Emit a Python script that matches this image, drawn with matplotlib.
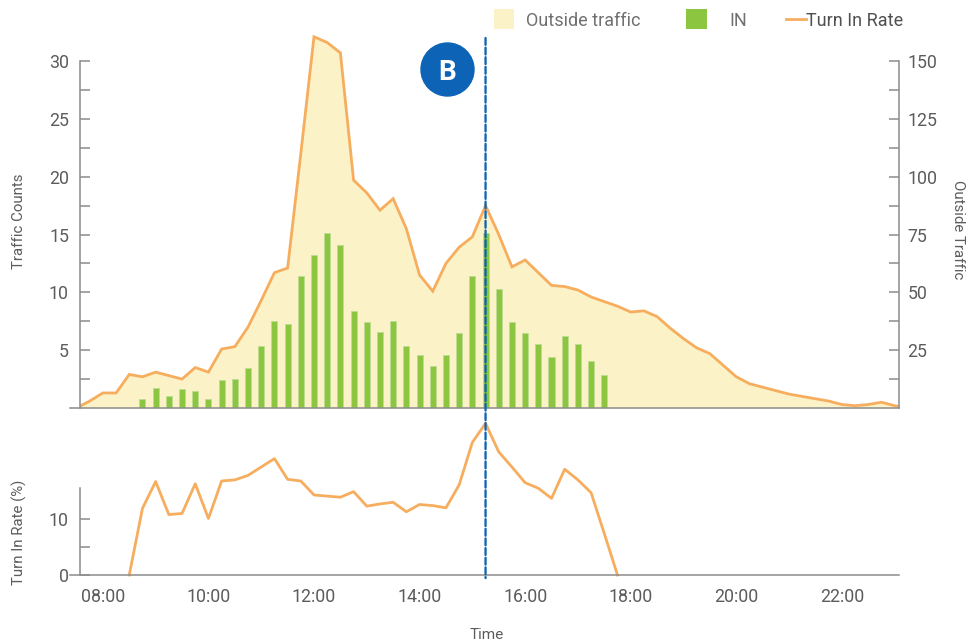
#!/usr/bin/env python3
"""Outside traffic vs. IN counts with turn-in rate, 15-minute buckets."""

import matplotlib

matplotlib.use("Agg")

import matplotlib.pyplot as plt  # noqa: E402
import numpy as np  # noqa: E402
from matplotlib.lines import Line2D  # noqa: E402
from matplotlib.patches import ConnectionPatch, Ellipse, Rectangle  # noqa: E402
from matplotlib.ticker import FixedLocator, FuncFormatter  # noqa: E402

plt.rcParams["font.family"] = ["Roboto", "DejaVu Sans"]

# outside traffic (right axis), every 15 min from 07:30
outside_start = 7.5
outside_traffic = [
    0, 3, 6.5, 6.5, 14.5, 13.5, 15.5, 14, 12.5, 17.5,
    15.5, 25.5, 26.5, 35, 46.5, 58.5, 60.5, 110, 160.5, 158,
    153.5, 98.5, 93, 85.5, 90.5, 77.5, 57.5, 50.5, 62.5, 69.5,
    74, 87.5, 75, 61, 64, 58.5, 53, 52.5, 51, 48,
    46, 44, 41.5, 42, 39.5, 34.5, 30, 26, 23.5, 18.5,
    13.5, 10.5, 9, 7.5, 6, 5, 4, 3, 1.5, 1,
    1.5, 2.5, 1, 0,
]

# IN counts (left axis), every 15 min from 08:45
in_start = 8.75
in_counts = [
    0.8, 1.7, 1.0, 1.6, 1.5, 0.8, 2.45, 2.55, 3.5, 5.4,
    7.5, 7.3, 11.4, 13.2, 15.1, 14.05, 8.35, 7.4, 6.55, 7.5,
    5.4, 4.6, 3.65, 4.6, 6.45, 11.4, 15.1, 10.3, 7.4, 6.45,
    5.5, 4.45, 6.2, 5.5, 4.05, 2.85,
]

# turn in rate (%), every 15 min from 08:30
rate_start = 8.5
turn_in_rate = [
    0, 11.9, 16.7, 10.8, 11.0, 16.3, 10.1, 16.8, 17.0, 17.8,
    19.3, 20.8, 17.1, 16.8, 14.3, 14.1, 13.9, 14.9, 12.3, 12.7,
    13.0, 11.3, 12.6, 12.4, 12.0, 16.1, 23.7, 27.1, 22.0, 19.3,
    16.5, 15.5, 13.7, 18.9, 17.0, 14.7, 7.4, 0,
]

hour_ticks = [8, 10, 12, 14, 16, 18, 20, 22]
marker_time = 15.25
marker_label = "B"

FILL = "#FBF3C7"
LINE = "#F7AD5E"
GREEN = "#8CC540"
BLUE = "#0D63B5"
AXIS = "#8C8C8C"
TEXT = "#5C5C5C"

W, H = 967, 643
STEP = 0.25
PX_PER_HOUR = 52.8


def px_box(left, top, right, bottom):
    return [left / W, 1 - bottom / H, (right - left) / W, (bottom - top) / H]


def times(start, values):
    return start + STEP * np.arange(len(values))


xlim = (7 + 34 / 60, 23 + 5 / 60)
# the x baseline pokes ~10 px out to the left of the y spine
baseline = (xlim[0] - 10 / PX_PER_HOUR, xlim[1])

fig = plt.figure(figsize=(W / 100, H / 100), dpi=100)

# --- top panel -------------------------------------------------------------
ax_in = fig.add_axes(px_box(80, 35, 899, 408))
ax_out = ax_in.twinx()
ax_in.set_zorder(ax_out.get_zorder() + 1)
ax_in.patch.set_visible(False)

t_out = times(outside_start, outside_traffic)
ax_out.fill_between(t_out, outside_traffic, color=FILL, lw=0)
ax_out.plot(t_out, outside_traffic, color=LINE, lw=2.0, solid_joinstyle="miter")
ax_out.set_ylim(0, 161.25)

ax_in.bar(times(in_start, in_counts), in_counts, width=0.115,
          color=GREEN, edgecolor="#BCDD92", linewidth=0.6)
ax_in.set_ylim(0, 32.25)
ax_in.set_xlim(*xlim)

for name in ("top", "right"):
    ax_in.spines[name].set_visible(False)
for name in ("top", "left", "bottom"):
    ax_out.spines[name].set_visible(False)
ax_in.spines["left"].set_bounds(0, 30)
ax_in.spines["bottom"].set_bounds(*baseline)
ax_out.spines["right"].set_bounds(0, 150)
for ax, side in ((ax_in, "left"), (ax_in, "bottom"), (ax_out, "right")):
    ax.spines[side].set_color(AXIS)
    ax.spines[side].set_linewidth(1.1)

ax_in.yaxis.set_major_locator(FixedLocator([5, 10, 15, 20, 25, 30]))
ax_in.yaxis.set_minor_locator(FixedLocator([2.5, 7.5, 12.5, 17.5, 22.5, 27.5]))
ax_out.yaxis.set_major_locator(FixedLocator([25, 50, 75, 100, 125, 150]))
ax_out.yaxis.set_minor_locator(FixedLocator([12.5, 37.5, 62.5, 87.5, 112.5, 137.5]))
ax_in.tick_params(axis="y", which="both", direction="in", length=7, width=1.1,
                  color=AXIS, labelcolor=TEXT, labelsize=12.8, pad=8)
ax_out.tick_params(axis="y", which="both", direction="in", length=7, width=1.1,
                   color=AXIS, labelcolor=TEXT, labelsize=12.8, pad=6)
ax_in.tick_params(axis="x", which="both", length=0, labelbottom=False)
ax_out.tick_params(axis="x", which="both", length=0, labelbottom=False)

ax_in.set_ylabel("Traffic Counts", fontsize=10.8, color=TEXT, va="center")
ax_in.yaxis.set_label_coords(-0.0745, 0.5)
ax_out.set_ylabel("Outside Traffic", fontsize=10.8, color=TEXT, rotation=270, va="center")
ax_out.yaxis.set_label_coords(1.072, 0.477)

# --- bottom panel ----------------------------------------------------------
ax_rate = fig.add_axes(px_box(80, 420, 899, 575))
ax_rate.patch.set_visible(False)
ax_rate.plot(times(rate_start, turn_in_rate), turn_in_rate, color=LINE, lw=2.0,
             clip_on=False)
ax_rate.set_xlim(*xlim)
ax_rate.set_ylim(0, 27.7)
for name in ("top", "right"):
    ax_rate.spines[name].set_visible(False)
ax_rate.spines["left"].set_bounds(0, 15.5)
ax_rate.spines["bottom"].set_bounds(*baseline)
for side in ("left", "bottom"):
    ax_rate.spines[side].set_color(AXIS)
    ax_rate.spines[side].set_linewidth(1.1)
ax_rate.yaxis.set_major_locator(FixedLocator([0, 10]))
ax_rate.yaxis.set_minor_locator(FixedLocator([5]))
ax_rate.tick_params(axis="y", which="both", direction="in", length=7, width=1.1,
                    color=AXIS, labelcolor=TEXT, labelsize=12.8, pad=8)
ax_rate.xaxis.set_major_locator(FixedLocator(hour_ticks))
ax_rate.xaxis.set_major_formatter(FuncFormatter(lambda h, _: f"{int(h):02d}:00"))
ax_rate.tick_params(axis="x", length=0, labelcolor=TEXT, labelsize=12.8, pad=9)

ax_rate.set_ylabel("Turn In Rate (%)", fontsize=10.8, color=TEXT, va="center")
ax_rate.yaxis.set_label_coords(-0.0745, 0.277)
ax_rate.set_xlabel("Time", fontsize=11, color=TEXT, va="center")
ax_rate.xaxis.set_label_coords(0.497, -0.387)

# --- marker line through both panels ---------------------------------------
marker = ConnectionPatch(
    xyA=(marker_time, 0.992), coordsA=ax_in.get_xaxis_transform(),
    xyB=(marker_time, -0.02), coordsB=ax_rate.get_xaxis_transform(),
    color=BLUE, lw=1.65, linestyle=(0, (3.0, 1.2)), zorder=5,
)
fig.add_artist(marker)

fig.add_artist(Ellipse((447.5 / W, 1 - 69.5 / H), 53 / W, 53 / H,
                       transform=fig.transFigure, color=BLUE, zorder=6))
fig.text(447.5 / W, 1 - 79.5 / H, marker_label, ha="center", va="baseline",
         fontsize=20, fontweight="bold", color="white", zorder=7)

# --- legend ----------------------------------------------------------------
fig.add_artist(Rectangle((494 / W, 1 - 29 / H), 20 / W, 20 / H,
                         transform=fig.transFigure, color=FILL, lw=0))
fig.text(526 / W, 1 - 26 / H, "Outside traffic", fontsize=13, color="#707070",
         va="baseline")
fig.add_artist(Rectangle((686 / W, 1 - 29 / H), 21 / W, 20 / H,
                         transform=fig.transFigure, color=GREEN, lw=0))
fig.text(729 / W, 1 - 26 / H, "IN", fontsize=13, color="#707070", va="baseline")
fig.add_artist(Line2D([786 / W, 806 / W], [1 - 19 / H, 1 - 19 / H],
                      transform=fig.transFigure, color=LINE, lw=2.0))
fig.text(806 / W, 1 - 26 / H, "Turn In Rate", fontsize=13, color="#505050",
         va="baseline")

fig.savefig("out.png", dpi=100)
